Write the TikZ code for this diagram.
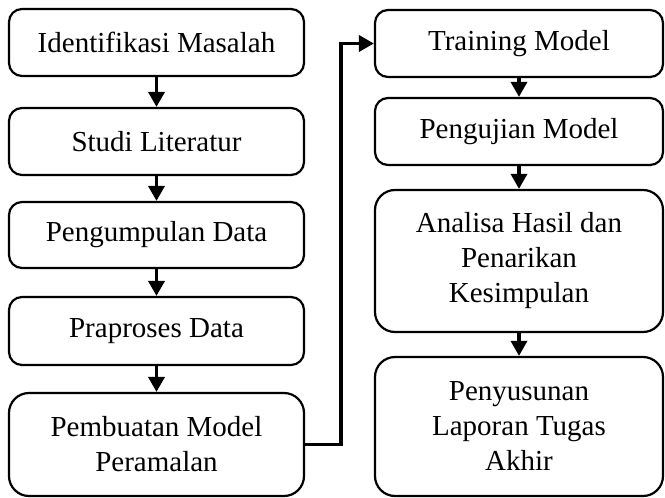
\documentclass[tikz,border=0pt]{standalone}
\usepackage{fontspec}
\setmainfont{Liberation Serif}
\usetikzlibrary{arrows.meta}
\begin{document}
\begin{tikzpicture}[x=1pt,y=-1pt,
  box/.style={draw, line width=2.2pt, rounded corners=13pt, inner sep=0pt, align=center,
    font=\fontsize{29}{35}\selectfont},
  lbox/.style={box, minimum width=295pt},
  rbox/.style={box, minimum width=288pt},
  big/.style={rounded corners=20pt},
  arr/.style={line width=3.5pt, -{Triangle[length=15pt,width=16pt]}}]
\useasboundingbox (0,0) rectangle (665,498);
\node[lbox, minimum height=67pt] (L1) at (156.5,42.5) {Identifikasi Masalah};
\node[lbox, minimum height=67pt] (L2) at (156.5,141.5) {Studi Literatur};
\node[lbox, minimum height=66pt] (L3) at (156.5,235) {Pengumpulan Data};
\node[lbox, minimum height=68pt] (L4) at (156.5,331) {Praproses Data};
\node[lbox, big, minimum height=103pt] (L5) at (156.5,444.5) {Pembuatan Model\\Peramalan};
\node[rbox, minimum height=67pt] (R1) at (519,43.5) {Training Model};
\node[rbox, minimum height=67pt] (R2) at (519,131.5) {Pengujian Model};
\node[rbox, big, minimum height=142pt] (R3) at (519,261) {Analisa Hasil dan\\Penarikan\\Kesimpulan};
\node[rbox, big, minimum height=139pt] (R4) at (519,426.5) {Penyusunan\\Laporan Tugas\\Akhir};
\draw[arr] (L1) -- (L2);
\draw[arr] (L2) -- (L3);
\draw[arr] (L3) -- (L4);
\draw[arr] (L4) -- (L5);
\draw[arr] (R1) -- (R2);
\draw[arr] (R2) -- (R3);
\draw[arr] (R3) -- (R4);
\draw[arr] (L5.east) -- ++(36,0) |- (R1.west);
\end{tikzpicture}
\end{document}
